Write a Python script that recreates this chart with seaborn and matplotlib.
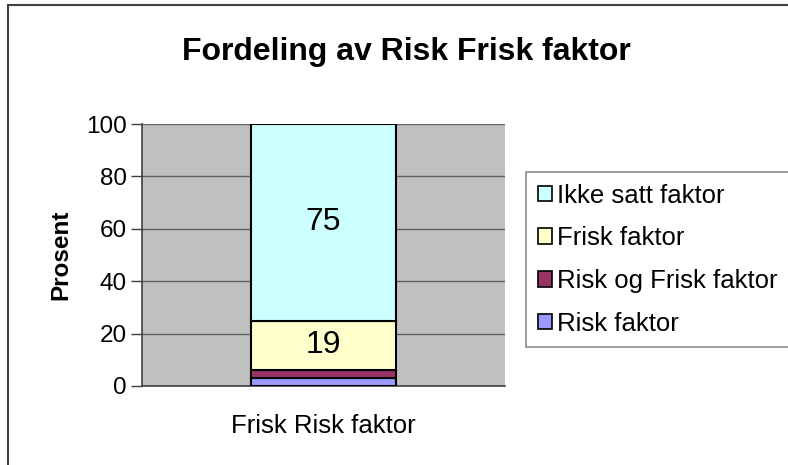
import matplotlib
matplotlib.use("Agg")
import matplotlib.pyplot as plt
import matplotlib.patches as mpatches
import seaborn as sns
import pandas as pd

# Data (percent)
category = ["Frisk Risk faktor"]
series = ["Risk faktor", "Risk og Frisk faktor", "Frisk faktor", "Ikke satt faktor"]
values = [3, 3, 19, 75]
colors = ["#9999FF", "#993366", "#FFFFCC", "#CCFFFF"]
yticks = [0, 20, 40, 60, 80, 100]

sns.set_style("white")
plt.rcParams["font.family"] = ["Liberation Sans", "DejaVu Sans"]
plt.rcParams["text.color"] = "black"
plt.rcParams["xtick.color"] = "black"
plt.rcParams["ytick.color"] = "black"
plt.rcParams["axes.labelcolor"] = "black"

fig = plt.figure(figsize=(7.88, 4.65), dpi=100)
ax = fig.add_axes([142 / 788, 1 - 386 / 465, 363 / 788, 262 / 465])
ax.set_facecolor("#C0C0C0")

# stacked bar, one seaborn call per series
bottom = 0
for name, val, col in zip(series, values, colors):
    df = pd.DataFrame({"kat": category, "verdi": [val]})
    sns.barplot(data=df, x="kat", y="verdi", color=col, width=0.4,
                bottom=bottom, edgecolor="black", linewidth=1.5,
                saturation=1, ax=ax, zorder=3)
    if val >= 10:
        ax.text(0, bottom + val / 2, str(val), ha="center", va="center",
                fontsize=23, zorder=4)
    bottom += val

ax.set_xlim(-0.5, 0.5)
ax.set_ylim(0, 100)
ax.set_yticks(yticks)
ax.set_yticklabels([str(t) for t in yticks], fontsize=17.5)
ax.yaxis.grid(True, color="#606060", linewidth=1, zorder=0)
ax.set_axisbelow(True)

ax.set_xticks([-0.5, 0.5])
ax.set_xticklabels(["", ""])
ax.set_xticks([0], minor=True)
ax.set_xticklabels(category, minor=True, fontsize=18.5)
ax.tick_params(axis="x", which="major", direction="out", length=8, width=1, color="#404040")
ax.tick_params(axis="x", which="minor", length=0, pad=20)
ax.tick_params(axis="y", direction="out", length=8, width=1, color="#404040", pad=3, left=True)

ax.set_xlabel("")
ax.set_ylabel("Prosent", fontsize=17.5, fontweight="bold", labelpad=10)

for side in ["top", "right"]:
    ax.spines[side].set_visible(False)
ax.spines["left"].set_color("#404040")
ax.spines["bottom"].set_color("#404040")
ax.spines["left"].set_linewidth(1.2)
ax.spines["bottom"].set_linewidth(1.2)

fig.text(406 / 788, 1 - 52 / 465, "Fordeling av Risk Frisk faktor",
         ha="center", va="center", fontsize=23, fontweight="bold")

# legend, top entry first
handles = [mpatches.Patch(facecolor=c, edgecolor="black", linewidth=1.2, label=s)
           for s, c in zip(series, colors)][::-1]
leg = fig.legend(handles=handles, loc="upper left",
                 bbox_to_anchor=(526 / 788, 1 - 172 / 465), fontsize=18.5,
                 frameon=True, fancybox=False, borderaxespad=0,
                 handlelength=0.55, handleheight=0.55, handletextpad=0.2,
                 labelspacing=0.73, borderpad=0.45)
leg.get_frame().set_edgecolor("#707070")
leg.get_frame().set_linewidth(1.2)

# chart area border (left and top visible)
fig.patches.append(mpatches.Rectangle((8 / 788, -0.1), 1.2, 1 - 5 / 465 + 0.1,
                                      transform=fig.transFigure, fill=False,
                                      edgecolor="#404040", linewidth=1.5))

fig.savefig("out.png", dpi=100)
